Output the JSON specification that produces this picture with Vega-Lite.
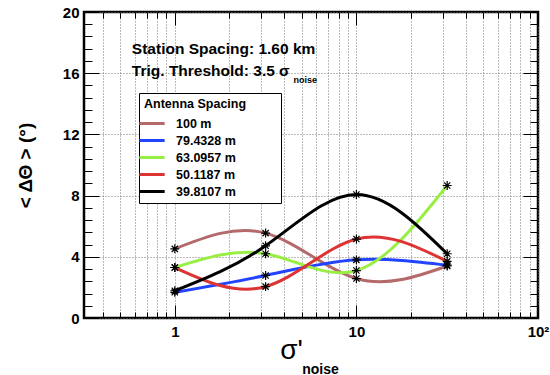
{
  "$schema": "https://vega.github.io/schema/vega-lite/v6.json",
  "width": 454,
  "height": 306,
  "autosize": {"type": "none"},
  "padding": {"left": 84, "top": 12, "right": 12, "bottom": 57},
  "background": "white",
  "config": {
    "font": "Liberation Sans",
    "view": {"stroke": "black", "strokeWidth": 2.5},
    "axis": {"domain": false, "labelFlush": false, "labelOverlap": false}
  },
  "datasets": {
    "graphs": [
      {"sigma": 1, "dtheta": 4.52, "spacing": "100 m"},
      {"sigma": 3.162, "dtheta": 5.55, "spacing": "100 m"},
      {"sigma": 10, "dtheta": 2.58, "spacing": "100 m"},
      {"sigma": 31.62, "dtheta": 3.4, "spacing": "100 m"},
      {"sigma": 1, "dtheta": 1.68, "spacing": "79.4328 m"},
      {"sigma": 3.162, "dtheta": 2.78, "spacing": "79.4328 m"},
      {"sigma": 10, "dtheta": 3.8, "spacing": "79.4328 m"},
      {"sigma": 31.62, "dtheta": 3.45, "spacing": "79.4328 m"},
      {"sigma": 1, "dtheta": 3.3, "spacing": "63.0957 m"},
      {"sigma": 3.162, "dtheta": 4.2, "spacing": "63.0957 m"},
      {"sigma": 10, "dtheta": 3.1, "spacing": "63.0957 m"},
      {"sigma": 31.62, "dtheta": 8.66, "spacing": "63.0957 m"},
      {"sigma": 1, "dtheta": 3.3, "spacing": "50.1187 m"},
      {"sigma": 3.162, "dtheta": 2.05, "spacing": "50.1187 m"},
      {"sigma": 10, "dtheta": 5.16, "spacing": "50.1187 m"},
      {"sigma": 31.62, "dtheta": 3.7, "spacing": "50.1187 m"},
      {"sigma": 1, "dtheta": 1.78, "spacing": "39.8107 m"},
      {"sigma": 3.162, "dtheta": 4.72, "spacing": "39.8107 m"},
      {"sigma": 10, "dtheta": 8.07, "spacing": "39.8107 m"},
      {"sigma": 31.62, "dtheta": 4.2, "spacing": "39.8107 m"}
    ]
  },
  "layer": [
    {
      "data": {"name": "graphs"},
      "mark": {"type": "line", "interpolate": "natural", "strokeWidth": 3},
      "encoding": {
        "x": {
          "field": "sigma", "type": "quantitative",
          "scale": {"type": "log", "domain": [0.3162, 100], "nice": false},
          "axis": {
            "orient": "bottom",
            "values": [0.4, 0.5, 0.6, 0.7, 0.8, 0.9, 1, 2, 3, 4, 5, 6, 7, 8, 9, 10, 20, 30, 40, 50, 60, 70, 80, 90, 100],
            "labelExpr": "datum.value == 1 ? '1' : datum.value == 10 ? '10' : datum.value == 100 ? '10²' : ''",
            "labelFontSize": 15, "labelFontWeight": "bold", "labelColor": "black", "labelPadding": 6,
            "ticks": false,
            "grid": true, "gridDash": [1, 2], "gridColor": "#777", "gridWidth": 1,
            "title": "σ'", "titleFontSize": 28, "titleFontWeight": "normal", "titleColor": "black",
            "titleX": 207, "titleY": 32, "titleBaseline": "middle", "titleAlign": "center"
          }
        },
        "y": {
          "field": "dtheta", "type": "quantitative",
          "scale": {"domain": [0, 20], "nice": false},
          "axis": {
            "orient": "left",
            "values": [0, 4, 8, 12, 16, 20],
            "format": "d",
            "labelFontSize": 15, "labelFontWeight": "bold", "labelColor": "black", "labelPadding": 5,
            "ticks": false,
            "grid": true, "gridDash": [1, 2], "gridColor": "#777", "gridWidth": 1,
            "title": "< ΔΘ > (°)", "titleFontSize": 19, "titleFontWeight": "bold", "titleColor": "black",
            "titleX": -59, "titleY": 153, "titleAngle": -90, "titleAlign": "center", "titleBaseline": "middle"
          }
        },
        "color": {
          "field": "spacing", "type": "nominal",
          "scale": {
            "domain": ["100 m", "79.4328 m", "63.0957 m", "50.1187 m", "39.8107 m"],
            "range": ["#b46a6a", "#2244ff", "#99ee44", "#dd3333", "#000000"]
          },
          "legend": {
            "title": "Antenna Spacing\u2003\u2003\u2004\u200b",
            "orient": "none", "legendX": 55, "legendY": 81,
            "strokeColor": "black", "fillColor": "white", "padding": 5,
            "titleFontSize": 12.5, "titleFontWeight": "bold", "titleColor": "black", "titlePadding": 5,
            "labelFontSize": 12.5, "labelFontWeight": "bold", "labelColor": "black",
            "labelExpr": "datum.label + '\u2003\u200b'",
            "symbolType": "M-2,0H2", "symbolStrokeWidth": 3, "symbolSize": 160, "symbolOpacity": 1,
            "labelOffset": 16, "rowPadding": 2
          }
        }
      }
    },
    {
      "data": {"name": "graphs"},
      "mark": {"type": "point", "shape": "M-1,0H1M0,-1V1M-0.7,-0.7L0.7,0.7M-0.7,0.7L0.7,-0.7", "filled": false, "stroke": "black", "strokeWidth": 1.2, "size": 80, "opacity": 1},
      "encoding": {
        "x": {
          "field": "sigma", "type": "quantitative",
          "scale": {"type": "log", "domain": [0.3162, 100], "nice": false},
          "axis": {
            "orient": "top",
            "values": [0.4, 0.5, 0.6, 0.7, 0.8, 0.9, 1, 2, 3, 4, 5, 6, 7, 8, 9, 10, 20, 30, 40, 50, 60, 70, 80, 90, 100],
            "labels": false, "grid": false, "ticks": true, "tickColor": "black", "tickWidth": 1,
            "tickSize": {"condition": {"test": "datum.value == 1 || datum.value == 10 || datum.value == 100", "value": -13}, "value": -6},
            "title": null
          }
        },
        "y": {
          "field": "dtheta", "type": "quantitative",
          "scale": {"domain": [0, 20], "nice": false},
          "axis": {
            "orient": "right",
            "values": [0, 0.8, 1.6, 2.4, 3.2, 4, 4.8, 5.6, 6.4, 7.2, 8, 8.8, 9.6, 10.4, 11.2, 12, 12.8, 13.6, 14.4, 15.2, 16, 16.8, 17.6, 18.4, 19.2, 20],
            "labels": false, "grid": false, "ticks": true, "tickColor": "black", "tickWidth": 1,
            "tickSize": {"condition": {"test": "abs(datum.value / 4 - round(datum.value / 4)) < 0.001", "value": -15}, "value": -8},
            "title": null
          }
        }
      }
    },
    {
      "data": {"values": [{"note": "Station Spacing: 1.60 km"}]},
      "mark": {"type": "text", "align": "left", "baseline": "middle", "fontSize": 15.5, "fontWeight": "bold", "color": "black"},
      "encoding": {
        "text": {"field": "note"},
        "x": {
          "datum": 0.58, "type": "quantitative",
          "scale": {"type": "log", "domain": [0.3162, 100], "nice": false},
          "axis": {
            "orient": "bottom",
            "values": [0.4, 0.5, 0.6, 0.7, 0.8, 0.9, 1, 2, 3, 4, 5, 6, 7, 8, 9, 10, 20, 30, 40, 50, 60, 70, 80, 90, 100],
            "labels": false, "grid": false, "ticks": true, "tickColor": "black", "tickWidth": 1,
            "tickSize": {"condition": {"test": "datum.value == 1 || datum.value == 10 || datum.value == 100", "value": -13}, "value": -6},
            "title": "noise", "titleFontSize": 14, "titleFontWeight": "bold", "titleColor": "black",
            "titleX": 236, "titleY": 51, "titleBaseline": "middle", "titleAlign": "center"
          }
        },
        "y": {
          "datum": 17.55, "type": "quantitative",
          "scale": {"domain": [0, 20], "nice": false},
          "axis": {
            "orient": "left",
            "values": [0, 0.8, 1.6, 2.4, 3.2, 4, 4.8, 5.6, 6.4, 7.2, 8, 8.8, 9.6, 10.4, 11.2, 12, 12.8, 13.6, 14.4, 15.2, 16, 16.8, 17.6, 18.4, 19.2, 20],
            "labels": false, "grid": false, "ticks": true, "tickColor": "black", "tickWidth": 1,
            "tickSize": {"condition": {"test": "abs(datum.value / 4 - round(datum.value / 4)) < 0.001", "value": -15}, "value": -8},
            "title": null
          }
        }
      }
    },
    {
      "data": {"values": [{"note": "Trig. Threshold: 3.5 σ"}]},
      "mark": {"type": "text", "align": "left", "baseline": "middle", "fontSize": 15.5, "fontWeight": "bold", "color": "black"},
      "encoding": {
        "text": {"field": "note"},
        "x": {"datum": 0.58, "type": "quantitative", "scale": {"type": "log", "domain": [0.3162, 100], "nice": false}, "axis": null},
        "y": {"datum": 16.13, "type": "quantitative", "scale": {"domain": [0, 20], "nice": false}, "axis": null}
      }
    },
    {
      "data": {"values": [{"note": "noise"}]},
      "mark": {"type": "text", "align": "left", "baseline": "middle", "fontSize": 9, "fontWeight": "bold", "color": "black"},
      "encoding": {
        "text": {"field": "note"},
        "x": {"datum": 4.5, "type": "quantitative", "scale": {"type": "log", "domain": [0.3162, 100], "nice": false}, "axis": null},
        "y": {"datum": 15.55, "type": "quantitative", "scale": {"domain": [0, 20], "nice": false}, "axis": null}
      }
    }
  ],
  "resolve": {"axis": {"x": "independent", "y": "independent"}}
}
